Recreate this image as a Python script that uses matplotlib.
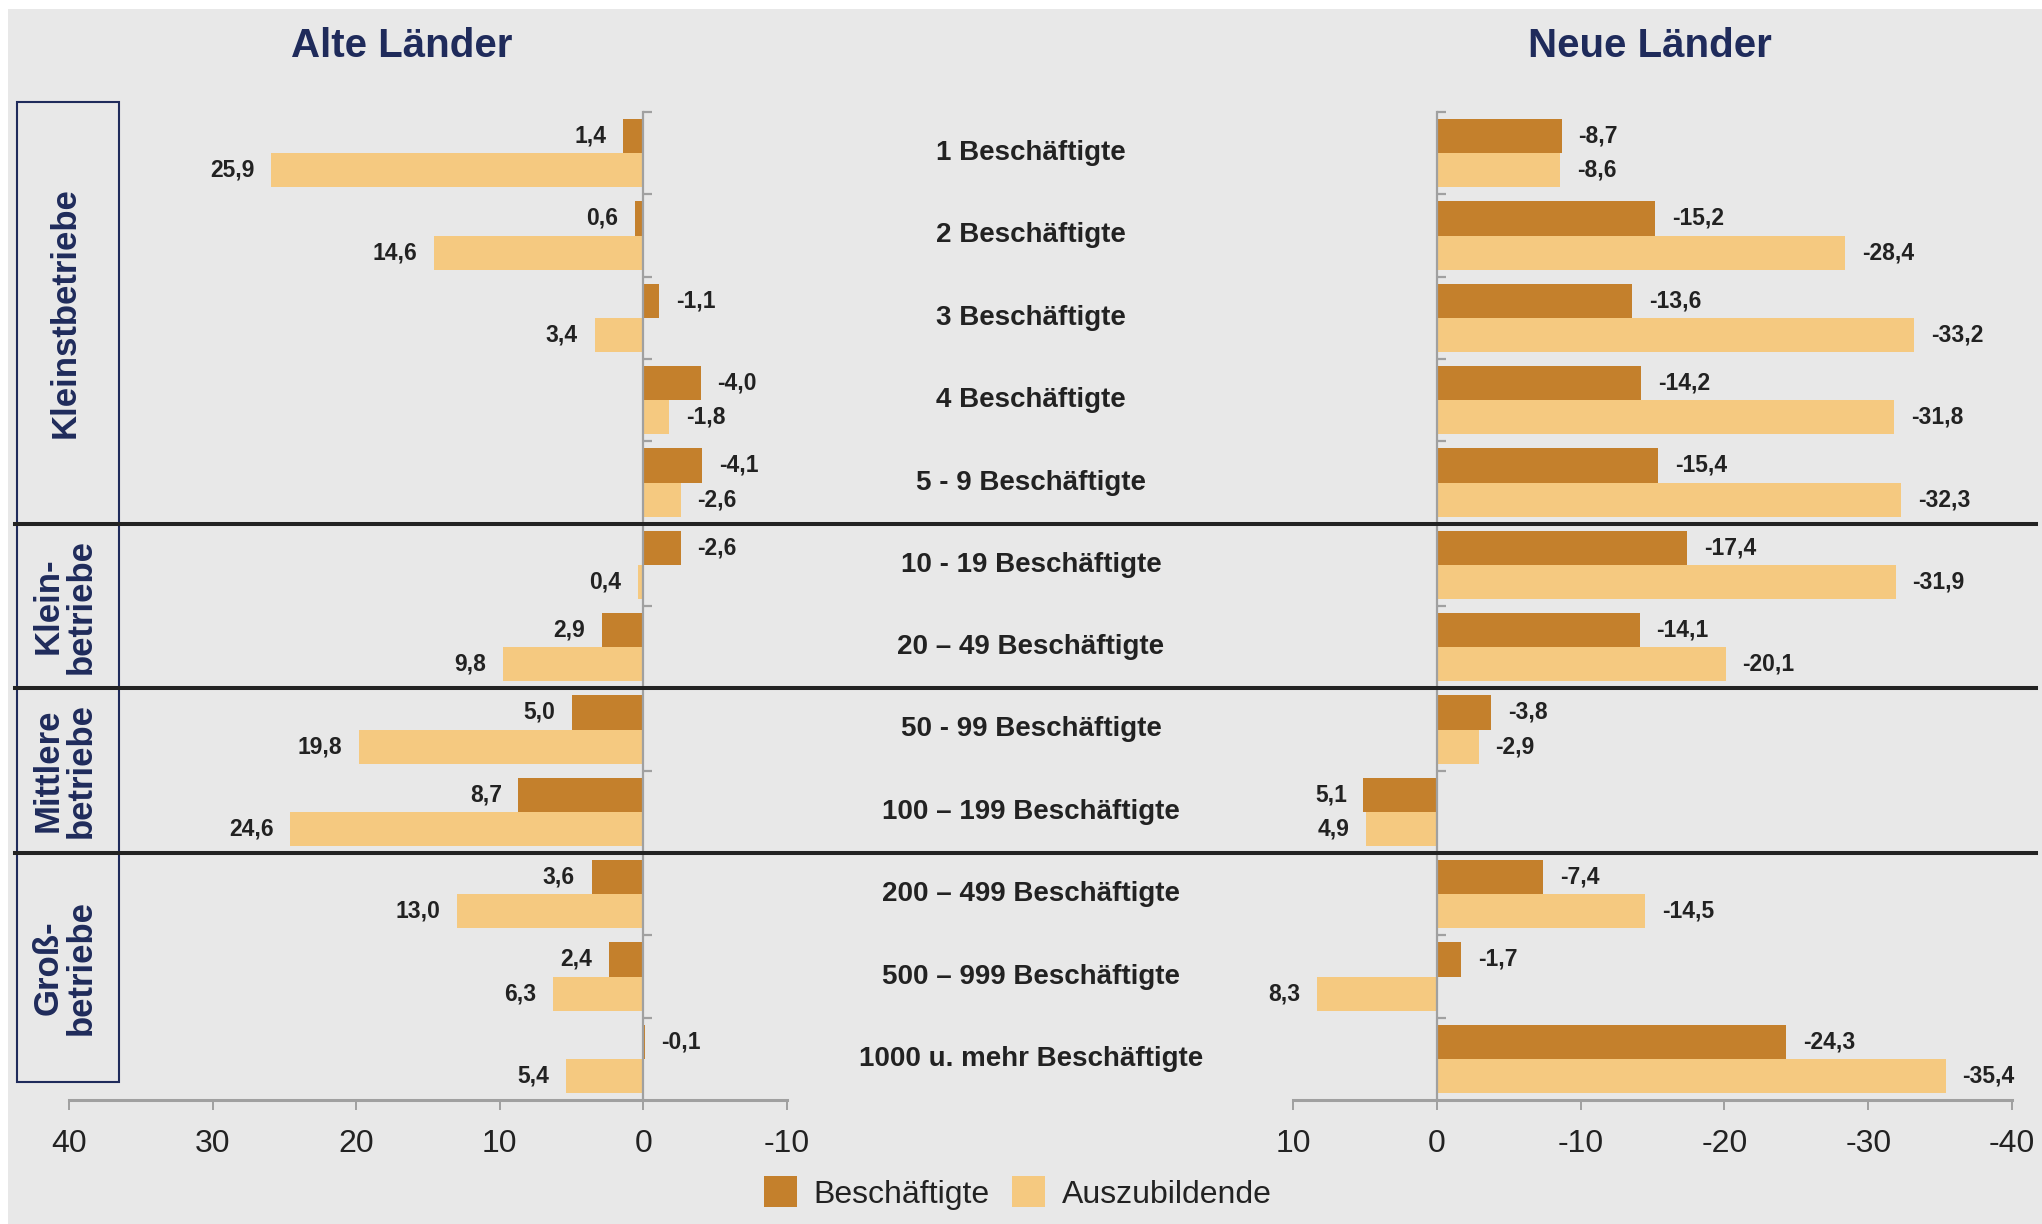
import matplotlib
matplotlib.use("Agg")
import matplotlib.pyplot as plt
from matplotlib.patches import Rectangle, Patch
from matplotlib.lines import Line2D
from matplotlib.transforms import blended_transform_factory

plt.rcParams['font.family'] = ['Liberation Sans', 'DejaVu Sans']
plt.rcParams['axes.unicode_minus'] = False

# categories (top to bottom)
categories = ["1 Beschäftigte", "2 Beschäftigte", "3 Beschäftigte", "4 Beschäftigte",
              "5 - 9 Beschäftigte", "10 - 19 Beschäftigte", "20 – 49 Beschäftigte",
              "50 - 99 Beschäftigte", "100 – 199 Beschäftigte", "200 – 499 Beschäftigte",
              "500 – 999 Beschäftigte", "1000 u. mehr Beschäftigte"]

# Alte Länder
alte_besch = [1.4, 0.6, -1.1, -4.0, -4.1, -2.6, 2.9, 5.0, 8.7, 3.6, 2.4, -0.1]
alte_azubi = [25.9, 14.6, 3.4, -1.8, -2.6, 0.4, 9.8, 19.8, 24.6, 13.0, 6.3, 5.4]

# Neue Länder
neue_besch = [-8.7, -15.2, -13.6, -14.2, -15.4, -17.4, -14.1, -3.8, 5.1, -7.4, -1.7, -24.3]
neue_azubi = [-8.6, -28.4, -33.2, -31.8, -32.3, -31.9, -20.1, -2.9, 4.9, -14.5, 8.3, -35.4]

# size classes: label, first category, last category (exclusive)
groups = [("Kleinstbetriebe", 0, 5), ("Klein-\nbetriebe", 5, 7),
          ("Mittlere\nbetriebe", 7, 9), ("Groß-\nbetriebe", 9, 12)]

alte_ticks = [40, 30, 20, 10, 0, -10]
neue_ticks = [10, 0, -10, -20, -30, -40]

C_BESCH = '#c4802c'
C_AZUBI = '#f5c980'
NAVY = '#1f2b5b'
GRAY = '#a0a0a0'
TXT = '#222222'

W, H = 2042, 1224
fig = plt.figure(figsize=(W / 100, H / 100), dpi=100, facecolor='white')
fig.patches.append(Rectangle((8 / W, 0), 1 - 8 / W, (H - 9) / H, transform=fig.transFigure,
                             facecolor='#e8e8e8', edgecolor='none', zorder=-10))

ax_bottom = (H - 1100) / H
ax_height = 988 / H
ax_l = fig.add_axes([69 / W, ax_bottom, 718 / W, ax_height])
ax_r = fig.add_axes([1293 / W, ax_bottom, 719 / W, ax_height])

bh = 0.415
n = len(categories)


def fmt(v):
    return f"{v:.1f}".replace('.', ',')


def draw_panel(ax, besch, azubi, xlim, ticks):
    ax.set_facecolor('none')
    y_b = [i + 0.5 - bh / 2 for i in range(n)]
    y_a = [i + 0.5 + bh / 2 for i in range(n)]
    ax.barh(y_b, besch, height=bh, color=C_BESCH, zorder=2)
    ax.barh(y_a, azubi, height=bh, color=C_AZUBI, zorder=2)
    for ys, vals in ((y_b, besch), (y_a, azubi)):
        for y, v in zip(ys, vals):
            off = -12 if v > 0 else 12
            ax.annotate(fmt(v), xy=(v, y), xytext=(off, 0), textcoords='offset points',
                        ha='right' if v > 0 else 'left', va='center',
                        fontsize=16.5, fontweight='bold', color=TXT)
    ax.set_xlim(*xlim)
    ax.set_ylim(n, 0)
    ax.set_xticks(ticks)
    ax.set_xticklabels([str(t) for t in ticks])
    ax.set_yticks(range(n))
    ax.set_yticklabels([])
    for s in ('top', 'right'):
        ax.spines[s].set_visible(False)
    ax.spines['left'].set_position(('data', 0))
    ax.spines['left'].set_color(GRAY)
    ax.spines['left'].set_linewidth(1.6)
    ax.spines['left'].set_zorder(3)
    ax.spines['bottom'].set_color(GRAY)
    ax.spines['bottom'].set_linewidth(2.2)
    ax.tick_params(axis='y', direction='in', length=6.5, width=1.6, color=GRAY)
    ax.tick_params(axis='x', direction='out', length=7, width=1.4, color=GRAY,
                   labelsize=23, labelcolor=TXT, pad=14)


draw_panel(ax_l, alte_besch, alte_azubi, (40, -10), alte_ticks)
draw_panel(ax_r, neue_besch, neue_azubi, (10, -40), neue_ticks)

# category labels in the middle
trans_mid = blended_transform_factory(fig.transFigure, ax_l.transData)
for i, cat in enumerate(categories):
    fig.text(1031 / W, i + 0.5, cat, transform=trans_mid, ha='center', va='center',
             fontsize=20, fontweight='bold', color=TXT)

# panel titles
fig.text(402 / W, 1 - 46 / H, "Alte Länder", ha='center', va='center',
         fontsize=29, fontweight='bold', color=NAVY)
fig.text(1650 / W, 1 - 46 / H, "Neue Länder", ha='center', va='center',
         fontsize=29, fontweight='bold', color=NAVY)


# boundaries in figure fraction
def yfig(b):
    px = ax_l.transData.transform((0, b))[1]
    return px / H


# separator lines between size classes
for _, start, end in groups[1:]:
    y = yfig(start)
    fig.lines.append(Line2D([15 / W, 2036 / W], [y, y], transform=fig.transFigure,
                            color=TXT, linewidth=2.9, zorder=5))

# group boxes with rotated labels
for k, (label, start, end) in enumerate(groups):
    top = yfig(start) + (10 / H if k == 0 else 0)
    bot = yfig(end) + (18 / H if k == len(groups) - 1 else 0)
    fig.patches.append(Rectangle((17 / W, bot), 102 / W, top - bot, transform=fig.transFigure,
                                 facecolor='none', edgecolor=NAVY, linewidth=1.5, zorder=4))
    fig.text(65 / W, (top + bot) / 2, label, rotation=90, ha='center', va='center',
             multialignment='center', linespacing=1.0,
             fontsize=25, fontweight='bold', color=NAVY)

# legend
handles = [Patch(facecolor=C_BESCH, label='Beschäftigte'),
           Patch(facecolor=C_AZUBI, label='Auszubildende')]
fig.legend(handles=handles, loc='center', bbox_to_anchor=(1018 / W, 31 / H), ncol=2,
           frameon=False, fontsize=23, handlelength=1.03, handleheight=1.1,
           handletextpad=0.53, columnspacing=0.7, borderpad=0, labelcolor=TXT)

fig.savefig('out.png', dpi=100, facecolor=fig.get_facecolor())
